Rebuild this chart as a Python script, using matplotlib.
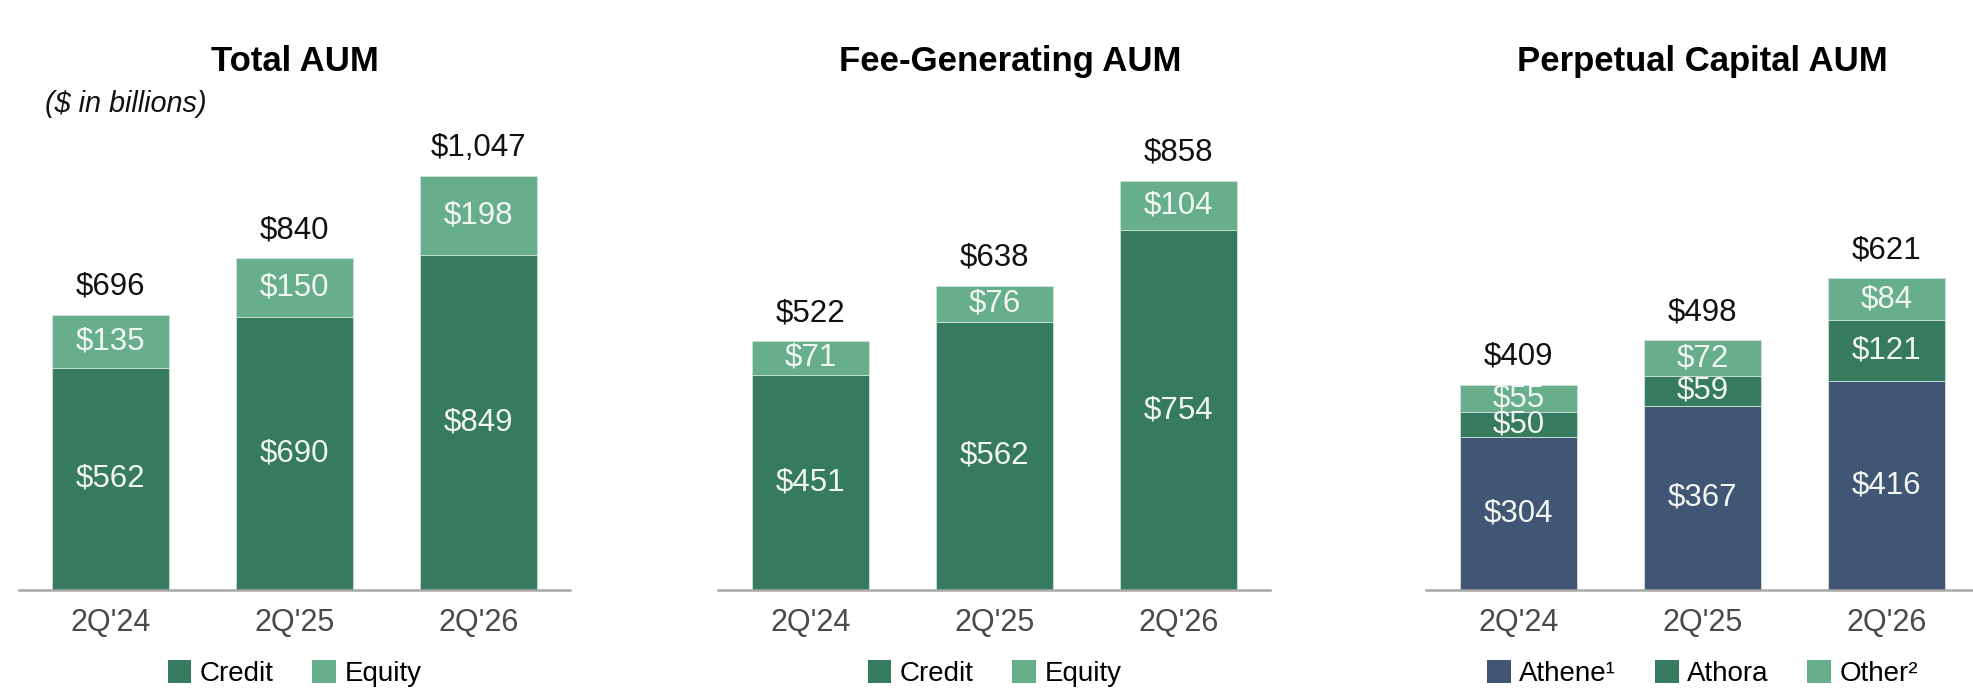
import numpy as np
import matplotlib.pyplot as plt
from matplotlib.patches import Patch

plt.rcParams['font.family'] = ['Liberation Sans', 'DejaVu Sans']

# data
quarters = ["2Q'24", "2Q'25", "2Q'26"]

total_credit = [562, 690, 849]
total_equity = [135, 150, 198]
total_sum = [696, 840, 1047]

fg_credit = [451, 562, 754]
fg_equity = [71, 76, 104]
fg_sum = [522, 638, 858]

pc_athene = [304, 367, 416]
pc_athora = [50, 59, 121]
pc_other = [55, 72, 84]
pc_sum = [409, 498, 621]

DARK = '#367a60'
LIGHT = '#66ae8c'
NAVY = '#415574'
INNER_TXT = '#f2f7f3'

W, H = 1974, 696
fig = plt.figure(figsize=(W / 100, H / 100), dpi=100)


def px_axes(left, right, bottom=590, top=100):
    return fig.add_axes([left / W, (H - bottom) / H, (right - left) / W, (bottom - top) / H])


def draw_panel(ax, segments, colors, totals, ymax, xright=2.5):
    x = np.arange(len(quarters))
    base = np.zeros(len(quarters))
    for vals, col in zip(segments, colors):
        vals = np.array(vals, dtype=float)
        ax.bar(x, vals, width=0.64, bottom=base, color=col,
               edgecolor='#cfe3d8', linewidth=0.6)
        for xi, b, v in zip(x, base, vals):
            ax.text(xi, b + v / 2, f'${v:,.0f}', ha='center', va='center',
                    fontsize=22.5, color=INNER_TXT)
        base += vals
    for xi, top, t in zip(x, base, totals):
        ax.annotate(f'${t:,.0f}', (xi, top), xytext=(0, 20), textcoords='offset points',
                    ha='center', va='center', fontsize=22.5, color='#111111')
    ax.set_xlim(-0.5, xright)
    ax.set_ylim(0, ymax)
    ax.set_xticks(x)
    ax.set_xticklabels(quarters, fontsize=22, color='#4a4a4a')
    ax.tick_params(axis='x', length=0, pad=13)
    ax.set_yticks([])
    for s in ['top', 'right', 'left']:
        ax.spines[s].set_visible(False)
    ax.spines['bottom'].set_color('#a8a8a8')
    ax.spines['bottom'].set_linewidth(1.8)


def add_legend(ax, labels, colors):
    handles = [Patch(facecolor=c, edgecolor='none', label=l) for l, c in zip(labels, colors)]
    ax.legend(handles=handles, loc='center', bbox_to_anchor=(1, -0.171),
              bbox_transform=ax.get_xaxis_transform(), ncol=len(labels), frameon=False,
              fontsize=20, handlelength=0.85, handleheight=0.85, handletextpad=0.3,
              columnspacing=1.4, borderpad=0)


ax1 = px_axes(18.5, 570.5)
draw_panel(ax1, [total_credit, total_equity], [DARK, LIGHT], total_sum, 1240)
add_legend(ax1, ['Credit', 'Equity'], [DARK, LIGHT])
ax1.text(0.5, 1.078, 'Total AUM', transform=ax1.transAxes, ha='center', va='center',
         fontsize=25, fontweight='bold', color='#000000')
fig.text(45 / W, 1 - 104 / H, '($ in billions)', ha='left', va='center',
         fontsize=20.8, style='italic', color='#111111')

ax2 = px_axes(718.5, 1270.5)
draw_panel(ax2, [fg_credit, fg_equity], [DARK, LIGHT], fg_sum, 1027)
add_legend(ax2, ['Credit', 'Equity'], [DARK, LIGHT])
ax2.text(0.528, 1.078, 'Fee-Generating AUM', transform=ax2.transAxes, ha='center',
         va='center', fontsize=25, fontweight='bold', color='#000000')

ax3 = px_axes(1426.5, 1974)
draw_panel(ax3, [pc_athene, pc_athora, pc_other], [NAVY, DARK, LIGHT], pc_sum, 976,
           xright=2.476)
add_legend(ax3, ['Athene\u00b9', 'Athora', 'Other\u00b2'], [NAVY, DARK, LIGHT])
ax3.text(1, 1.078, 'Perpetual Capital AUM', transform=ax3.get_xaxis_transform(),
         ha='center', va='center', fontsize=25, fontweight='bold', color='#000000')

fig.savefig('out.png', dpi=100, facecolor='white')
